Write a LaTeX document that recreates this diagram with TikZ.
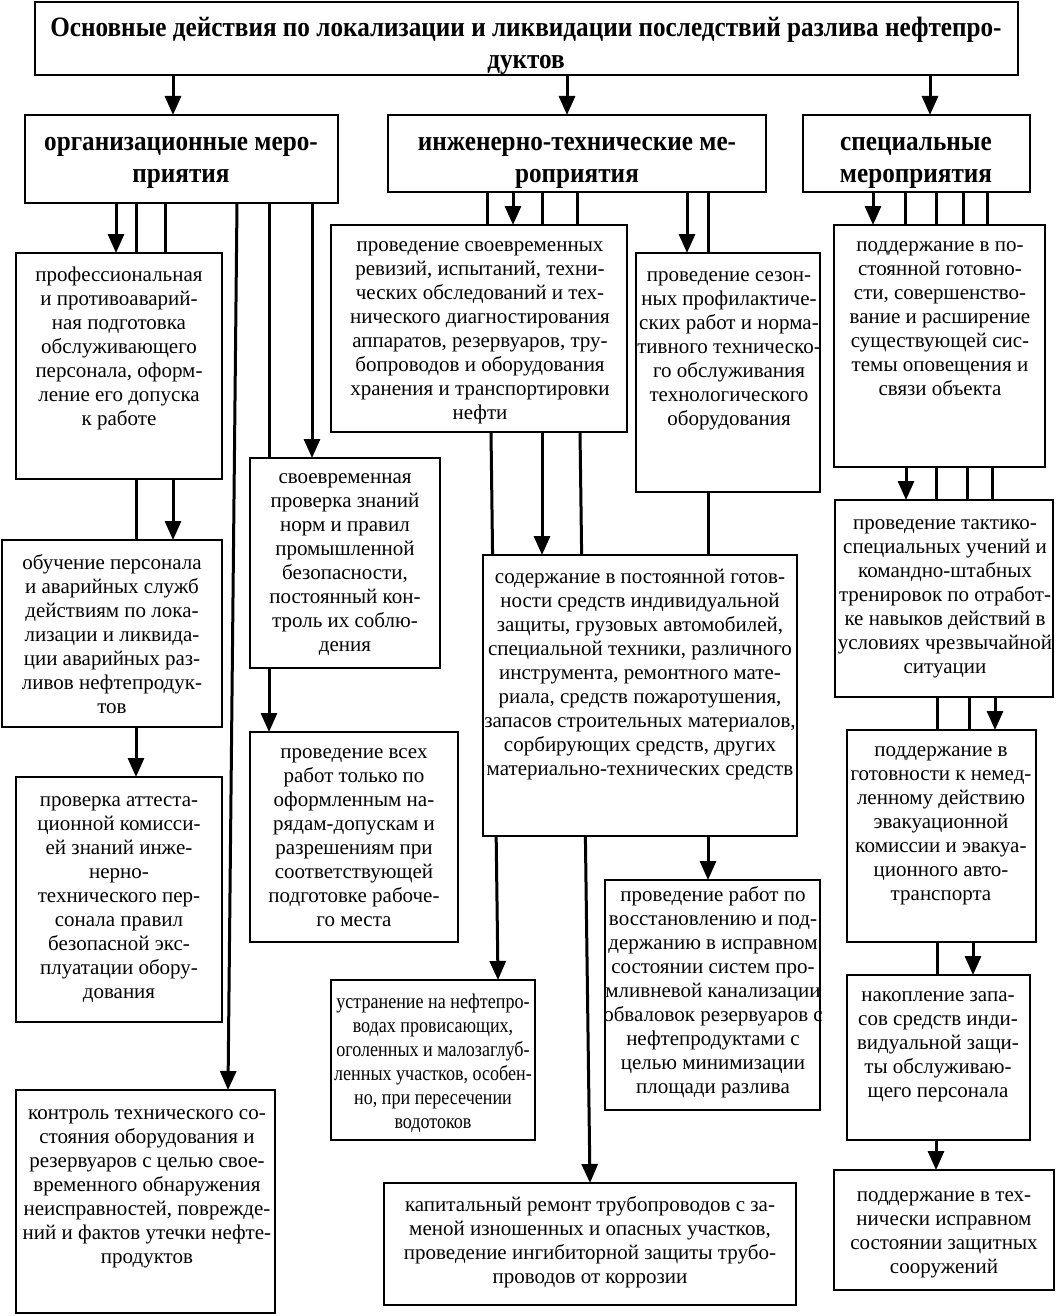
\documentclass[tikz,border=0pt]{standalone}
\usepackage{fontspec}
\setmainfont{Liberation Serif}
\newfontfamily\hdfont{Liberation Serif}[FakeStretch=0.9]
\newfontfamily\nrfont{Liberation Serif}[FakeStretch=0.86]
\usetikzlibrary{arrows.meta,fit,calc}
\pgfdeclarelayer{bg}
\pgfsetlayers{bg,main}
\newcommand\fl{\rule{0pt}{16pt}}
\newcommand\hl{\rule{0pt}{21pt}}
\tikzset{
  box/.style={draw, line width=2.2pt, fill=white, inner sep=0pt, outer sep=0pt},
  txt/.style={align=center, inner sep=0pt, anchor=north, font=\fontsize{21}{24}\selectfont},
  ntxt/.style={align=center, inner sep=0pt, anchor=north, font=\nrfont\fontsize{21}{24}\selectfont},
  htxt/.style={align=center, inner sep=0pt, anchor=north, font=\hdfont\bfseries\fontsize{28}{32}\selectfont},
  ttxt/.style={align=center, inner sep=0pt, anchor=north, font=\hdfont\bfseries\fontsize{28}{32}\selectfont},
  ln/.style={line width=3pt},
  arr/.style={line width=3pt, -{Triangle[length=19pt,width=16pt]}},
}
\begin{document}
\begin{tikzpicture}[x=1pt,y=-1pt]
\useasboundingbox (0,0) rectangle (1055,1316);
% ---- boxes ----
\node[box, fit={(35,2)(1018,75)}] (T) {};
\node[box, fit={(25,115)(338,203)}] (H1) {};
\node[box, fit={(388,115)(766,192)}] (H2) {};
\node[box, fit={(803,115)(1030,192)}] (H3) {};
\node[box, fit={(16,253)(222,479)}] (A1) {};
\node[box, fit={(2,540)(222,727)}] (A2) {};
\node[box, fit={(16,777)(222,1022)}] (A3) {};
\node[box, fit={(16,1090)(275,1313)}] (A4) {};
\node[box, fit={(250,458)(440,668)}] (A5) {};
\node[box, fit={(250,732)(458,942)}] (A6) {};
\node[box, fit={(331,225)(627,432)}] (B1) {};
\node[box, fit={(636,253)(820,492)}] (B2) {};
\node[box, fit={(483,555)(797,836)}] (B3) {};
\node[box, fit={(331,980)(535,1140)}] (B4) {};
\node[box, fit={(605,880)(820,1110)}] (B5) {};
\node[box, fit={(384,1183)(796,1305)}] (B6) {};
\node[box, fit={(834,225)(1045,467)}] (C1) {};
\node[box, fit={(835,500)(1053,697)}] (C2) {};
\node[box, fit={(847,730)(1036,942)}] (C3) {};
\node[box, fit={(847,975)(1030,1140)}] (C4) {};
\node[box, fit={(834,1170)(1054,1290)}] (C5) {};
% ---- texts ----
\node[ttxt] (Tt) at (526,15.5) {\hl Основные действия по локализации и ликвидации последствий разлива нефтепро-\\дуктов};
\node[htxt] (H1t) at (181,129.5) {\hl организационные меро-\\приятия};
\node[htxt] (H2t) at (577,129.5) {\hl инженерно-технические ме-\\роприятия};
\node[htxt] (H3t) at (916,129.5) {\hl специальные\\мероприятия};
\node[txt] (A1t) at (119,265) {\fl профессиональная\\и противоаварий-\\ная подготовка\\обслуживающего\\персонала, оформ-\\ление его допуска\\к работе};
\node[txt] (A2t) at (112,553) {\fl обучение персонала\\и аварийных служб\\действиям по лока-\\лизации и ликвида-\\ции аварийных раз-\\ливов нефтепродук-\\тов};
\node[txt] (A3t) at (119,790) {\fl проверка аттеста-\\ционной комисси-\\ей знаний инже-\\нерно-\\технического пер-\\сонала правил\\безопасной экс-\\плуатации обору-\\дования};
\node[txt] (A4t) at (147,1103) {\fl контроль технического со-\\стояния оборудования и\\резервуаров с целью свое-\\временного обнаружения\\неисправностей, поврежде-\\ний и фактов утечки нефте-\\продуктов};
\node[txt] (A5t) at (345,467) {\fl своевременная\\проверка знаний\\норм и правил\\промышленной\\безопасности,\\постоянный кон-\\троль их соблю-\\дения};
\node[txt] (A6t) at (354,742) {\fl проведение всех\\работ только по\\оформленным на-\\рядам-допускам и\\разрешениям при\\соответствующей\\подготовке рабоче-\\го места};
\node[txt] (B1t) at (480,235) {\fl проведение своевременных\\ревизий, испытаний, техни-\\ческих обследований и тех-\\нического диагностирования\\аппаратов, резервуаров, тру-\\бопроводов и оборудования\\хранения и транспортировки\\нефти};
\node[txt] (B2t) at (729,265) {\fl проведение сезон-\\ных профилактиче-\\ских работ и норма-\\тивного техническо-\\го обслуживания\\технологического\\оборудования};
\node[txt] (B3t) at (640,567) {\fl содержание в постоянной готов-\\ности средств индивидуальной\\защиты, грузовых автомобилей,\\специальной техники, различного\\инструмента, ремонтного мате-\\риала, средств пожаротушения,\\запасов строительных материалов,\\сорбирующих средств, других\\материально-технических средств};
\node[ntxt] (B4t) at (433,992) {\fl устранение на нефтепро-\\водах провисающих,\\оголенных и малозаглуб-\\ленных участков, особен-\\но, при пересечении\\водотоков};
\node[txt] (B5t) at (713,885) {\fl проведение работ по\\восстановлению и под-\\держанию в исправном\\состоянии систем про-\\мливневой канализации\\обваловок резервуаров с\\нефтепродуктами с\\целью минимизации\\площади разлива};
\node[txt] (B6t) at (590,1195) {\fl капитальный ремонт трубопроводов с за-\\меной изношенных и опасных участков,\\проведение ингибиторной защиты трубо-\\проводов от коррозии};
\node[txt] (C1t) at (940,235) {\fl поддержание в по-\\стоянной готовно-\\сти, совершенство-\\вание и расширение\\существующей сис-\\темы оповещения и\\связи объекта};
\node[txt] (C2t) at (945,513) {\fl проведение тактико-\\специальных учений и\\командно-штабных\\тренировок по отработ-\\ке навыков действий в\\условиях чрезвычайной\\ситуации};
\node[txt] (C3t) at (941,740) {\fl поддержание в\\готовности к немед-\\ленному действию\\эвакуационной\\комиссии и эвакуа-\\ционного авто-\\транспорта};
\node[txt] (C4t) at (938,985) {\fl накопление запа-\\сов средств инди-\\видуальной защи-\\ты обслуживаю-\\щего персонала};
\node[txt] (C5t) at (944,1185) {\fl поддержание в тех-\\нически исправном\\состоянии защитных\\сооружений};
% ---- connectors ----
\begin{pgfonlayer}{bg}
\draw[arr] (173,0 |- T.south) -- (173,0 |- H1.north);
\draw[arr] (567,0 |- T.south) -- (567,0 |- H2.north);
\draw[arr] (930,0 |- T.south) -- (930,0 |- H3.north);
% organisational
\draw[arr] (116,0 |- H1.south) -- (116,0 |- A1.north);
\draw[ln]  (136,0 |- H1.south) -- (136,0 |- A2.north);
\draw[ln]  (165,0 |- H1.south) -- (165,0 |- A1.north);
\draw[arr] (173,0 |- A1.south) -- (173,0 |- A2.north);
\draw[arr] (136,0 |- A2.south) -- (136,0 |- A3.north);
\draw[arr] (237,0 |- H1.south) -- (228,0 |- A4.north);
\draw[arr] (269,0 |- H1.south) -- (269,0 |- A6.north);
\draw[arr] (312,0 |- H1.south) -- (312,0 |- A5.north);
% engineering
\draw[ln]  (487,0 |- H2.south) -- (487,0 |- B1.north);
\draw[arr] (513,0 |- H2.south) -- (513,0 |- B1.north);
\draw[ln]  (542,0 |- H2.south) -- (542,0 |- B1.north);
\draw[ln]  (577,0 |- H2.south) -- (577,0 |- B1.north);
\draw[arr] (687,0 |- H2.south) -- (687,0 |- B2.north);
\draw[ln]  (708,0 |- H2.south) -- (708,0 |- B2.north);
\draw[arr] (542,0 |- B1.south) -- (542,0 |- B3.north);
\draw[arr] (491,0 |- B1.south) -- (498,0 |- B4.north);
\draw[arr] (580,0 |- B1.south) -- (590,0 |- B6.north);
\draw[ln]  (708,0 |- B2.south) -- (708,0 |- B3.north);
\draw[arr] (708,0 |- B3.south) -- (708,0 |- B5.north);
% special
\draw[arr] (873,0 |- H3.south) -- (873,0 |- C1.north);
\draw[ln]  (905,0 |- H3.south) -- (905,0 |- C1.north);
\draw[ln]  (936,0 |- H3.south) -- (936,0 |- C1.north);
\draw[ln]  (963,0 |- H3.south) -- (963,0 |- C1.north);
\draw[ln]  (987,0 |- H3.south) -- (987,0 |- C1.north);
\draw[arr] (906,0 |- C1.south) -- (906,0 |- C2.north);
\draw[ln]  (936,0 |- C1.south) -- (936,0 |- C2.north);
\draw[ln]  (967,0 |- C1.south) -- (967,0 |- C2.north);
\draw[ln]  (992,0 |- C1.south) -- (992,0 |- C2.north);
\draw[ln]  (937,0 |- C2.south) -- (937,0 |- C3.north);
\draw[ln]  (969,0 |- C2.south) -- (969,0 |- C3.north);
\draw[arr] (995,0 |- C2.south) -- (995,0 |- C3.north);
\draw[ln]  (937,0 |- C3.south) -- (937,0 |- C4.north);
\draw[arr] (973,0 |- C3.south) -- (973,0 |- C4.north);
\draw[arr] (936,0 |- C4.south) -- (936,0 |- C5.north);
\end{pgfonlayer}
\end{tikzpicture}
\end{document}
